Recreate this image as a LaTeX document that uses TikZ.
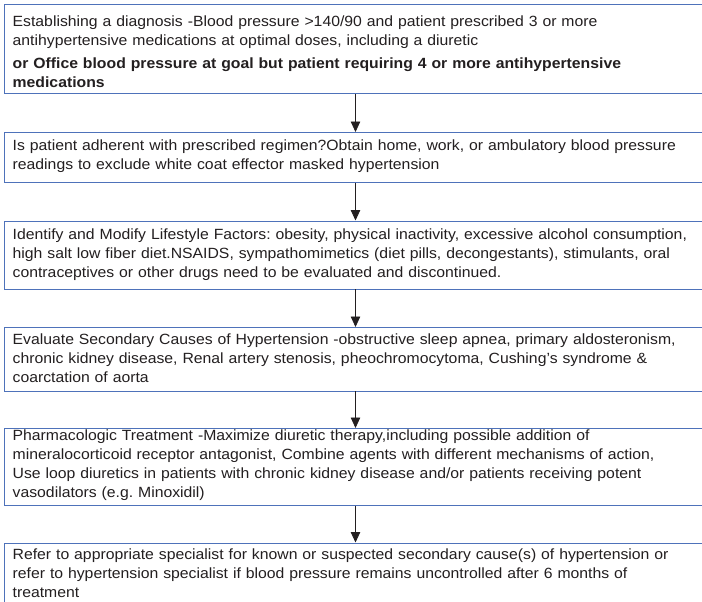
\documentclass[tikz,border=0pt]{standalone}
\usepackage{fontspec}
\setmainfont{Liberation Sans}[FakeStretch=1.065]
\usetikzlibrary{arrows.meta}
\definecolor{bordercol}{RGB}{78,114,186}
\definecolor{inkcol}{RGB}{35,31,32}
\frenchspacing
\begin{document}
\begin{tikzpicture}[x=1pt,y=-1pt,
  box/.style={draw=bordercol, line width=0.9pt, rectangle, inner sep=0pt,
    minimum width=730pt, anchor=north west},
  txt/.style={inner sep=0pt, anchor=base west, text width=700pt, align=left,
    text=inkcol, font=\fontsize{14.8}{19}\selectfont\frenchspacing},
  arr/.style={draw=inkcol, line width=0.8pt, -{Triangle[length=10.5pt,width=9.5pt]}}]
\useasboundingbox (0,0) rectangle (702,602);
\clip (0,0) rectangle (702,602);
\fill[white] (0,0) rectangle (702,602);
\coordinate (ax) at (355.5,0);
% boxes
\node[box, minimum height=89pt] (b1) at (3.5,4) {};
\node[box, minimum height=50pt] (b2) at (3.5,132) {};
\node[box, minimum height=68pt] (b3) at (3.5,220.5) {};
\node[box, minimum height=63.5pt] (b4) at (3.5,327) {};
\node[box, minimum height=77pt] (b5) at (3.5,428) {};
\node[box, minimum height=80pt] (b6) at (3.5,542.5) {};
% texts
\node[txt] (t1) at (12.5,26.7) {Establishing a diagnosis -Blood pressure >140/90 and patient prescribed 3 or more\\
antihypertensive medications at optimal doses, including a diuretic\\[3.7pt]
\textbf{or Office blood pressure at goal but patient requiring 4 or more antihypertensive}\\
\textbf{medications}};
\node[txt] (t2) at (12.5,150.7) {Is patient adherent with prescribed regimen?Obtain home, work, or ambulatory blood pressure\\
readings to exclude white coat effector masked hypertension};
\node[txt] (t3) at (12.5,239) {Identify and Modify Lifestyle Factors: obesity, physical inactivity, excessive alcohol consumption,\\
high salt low fiber diet.NSAIDS, sympathomimetics (diet pills, decongestants), stimulants, oral\\
contraceptives or other drugs need to be evaluated and discontinued.};
\node[txt] (t4) at (12.5,344.5) {Evaluate Secondary Causes of Hypertension -obstructive sleep apnea, primary aldosteronism,\\
chronic kidney disease, Renal artery stenosis, pheochromocytoma, Cushing’s syndrome \&\\
coarctation of aorta};
\node[txt] (t5) at (12.5,440.5) {Pharmacologic Treatment -Maximize diuretic therapy,including possible addition of\\
mineralocorticoid receptor antagonist, Combine agents with different mechanisms of action,\\
Use loop diuretics in patients with chronic kidney disease and/or patients receiving potent\\
vasodilators (e.g. Minoxidil)};
\node[txt] (t6) at (12.5,559.5) {Refer to appropriate specialist for known or suspected secondary cause(s) of hypertension or\\
refer to hypertension specialist if blood pressure remains uncontrolled after 6 months of\\
treatment};
% arrows
\draw[arr] (b1.south -| ax) -- (b2.north -| ax);
\draw[arr] (b2.south -| ax) -- (b3.north -| ax);
\draw[arr] (b3.south -| ax) -- (b4.north -| ax);
\draw[arr] (b4.south -| ax) -- (b5.north -| ax);
\draw[arr] (b5.south -| ax) -- (b6.north -| ax);
\end{tikzpicture}
\end{document}
